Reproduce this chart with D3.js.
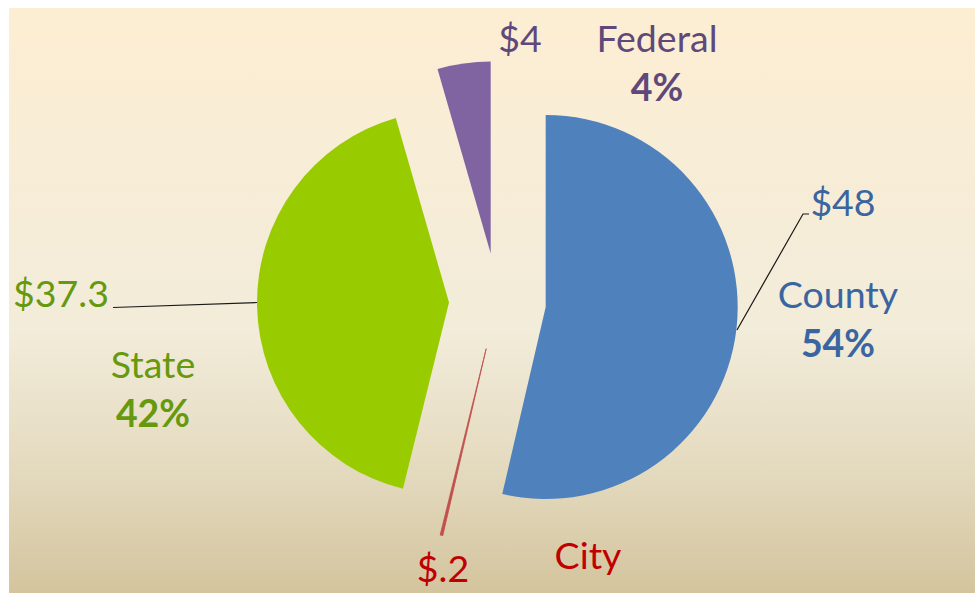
<!DOCTYPE html>
<html><head><meta charset="utf-8">
<script src="https://cdn.jsdelivr.net/npm/d3@7"></script>
<style>html,body{margin:0;padding:0;background:#fff;}svg{display:block;}</style>
</head><body>
<script>
const categories = ["County", "City", "State", "Federal"];
const values = [48, 0.2, 37.3, 4];
const valueLabels = ["$48", "$.2", "$37.3", "$4"];
const sliceColors = ["#4f81bd", "#c0504d", "#99cc00", "#8064a2"];
const textColors = ["#3a65a0", "#c00000", "#66990e", "#5f497a"];

const W = 975, H = 593;
const svg = d3.select("body").append("svg").attr("width", W).attr("height", H);
const defs = svg.append("defs");
const g = defs.append("linearGradient").attr("id", "bg").attr("x1", 0).attr("y1", 0).attr("x2", 0).attr("y2", 1);
g.append("stop").attr("offset", "0").attr("stop-color", "#fdeed3");
g.append("stop").attr("offset", "0.55").attr("stop-color", "#f2ecda");
g.append("stop").attr("offset", "0.8").attr("stop-color", "#e3d9bd");
g.append("stop").attr("offset", "1").attr("stop-color", "#d4c49e");
svg.append("rect").attr("x", 9).attr("y", 8).attr("width", W - 9).attr("height", H - 8).attr("fill", "url(#bg)");

const cx = 497.5, cy = 301.5, R = 192, explode = 48.5;
const pie = d3.pie().sort(null).value(d => d)(values);
const arc = d3.arc().innerRadius(0).outerRadius(R);
const total = d3.sum(values);
const pct = d3.format(".0%");

const root = svg.append("g").attr("transform", `translate(${cx},${cy})`);
pie.forEach((p, i) => {
  const mid = (p.startAngle + p.endAngle) / 2;
  const dx = explode * Math.sin(mid), dy = -explode * Math.cos(mid);
  root.append("path").attr("d", arc(p)).attr("fill", sliceColors[i])
    .attr("stroke", i === 1 ? sliceColors[i] : "none").attr("stroke-width", 0.8)
    .attr("transform", `translate(${dx},${dy})`);
});

// leader lines
const ll = svg.append("g").attr("fill", "none").attr("stroke", "#1a1a1a").attr("stroke-width", 1.2);
ll.append("polyline").attr("points", "737,330 803,214 809,214");
ll.append("polyline").attr("points", "257,302.5 113,307.5");

// label layout
const layout = [
  {vx: 843, vy: 216, nx: 838, ny: 308, py: 357},
  {vx: 443, vy: 582, nx: 588, ny: 569, py: null},
  {vx: 61,  vy: 307, nx: 153, ny: 378, py: 427},
  {vx: 520, vy: 52,  nx: 657, ny: 52,  py: 101}
];
const font = "Lato, 'Open Sans', sans-serif";
const fs = 37.5;
const lab = svg.append("g").attr("font-family", font).attr("text-anchor", "middle");
categories.forEach((c, i) => {
  const L = layout[i];
  lab.append("text").attr("x", L.vx).attr("y", L.vy).attr("font-size", fs).attr("fill", textColors[i]).text(valueLabels[i]);
  lab.append("text").attr("x", L.nx).attr("y", L.ny).attr("font-size", fs).attr("fill", textColors[i]).text(c);
  if (L.py !== null) {
    lab.append("text").attr("x", L.nx).attr("y", L.py).attr("font-size", fs).attr("font-weight", "bold")
      .attr("fill", textColors[i]).text(pct(values[i] / total));
  }
});
</script>
</body></html>
